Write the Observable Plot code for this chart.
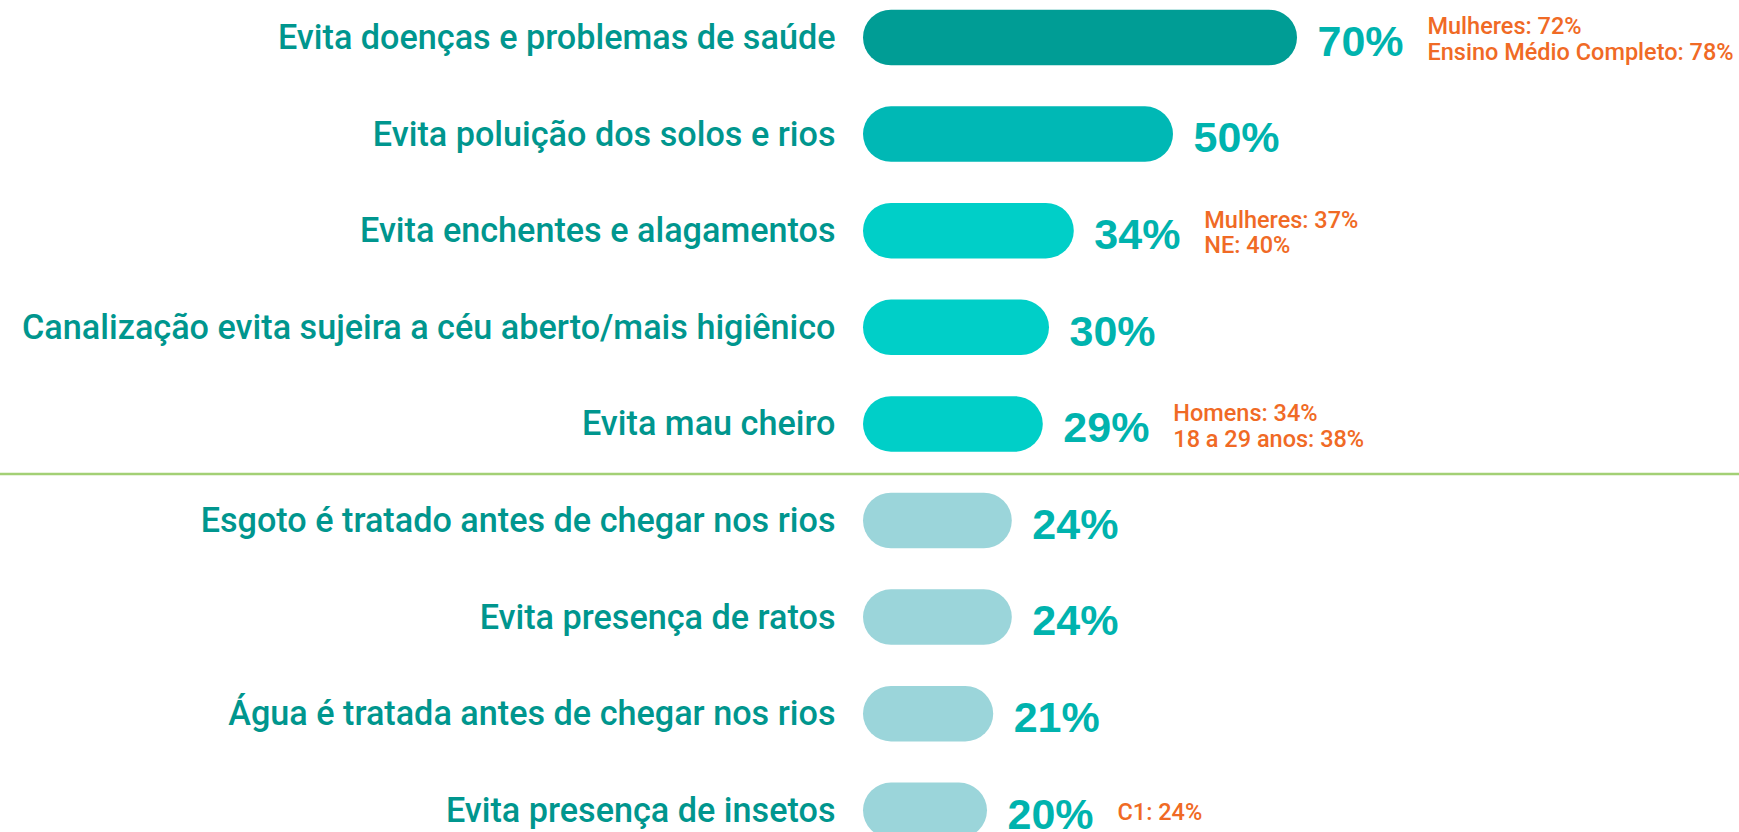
<!DOCTYPE html>
<html>
<head>
<meta charset="utf-8">
<script src="https://cdn.jsdelivr.net/npm/d3@7"></script>
<script src="https://cdn.jsdelivr.net/npm/@observablehq/plot@0.6"></script>
<style>
  html, body { margin: 0; padding: 0; background: #ffffff; overflow: hidden; }
</style>
</head>
<body>
<div id="chart"></div>
<script>
const categories = [
  "Evita doenças e problemas de saúde",
  "Evita poluição dos solos e rios",
  "Evita enchentes e alagamentos",
  "Canalização evita sujeira a céu aberto/mais higiênico",
  "Evita mau cheiro",
  "Esgoto é tratado antes de chegar nos rios",
  "Evita presença de ratos",
  "Água é tratada antes de chegar nos rios",
  "Evita presença de insetos"
];
const values = [70, 50, 34, 30, 29, 24, 24, 21, 20];
const tiers = ["t1", "t2", "t3", "t3", "t3", "t4", "t4", "t4", "t4"];
const notes = [
  "Mulheres: 72%\nEnsino Médio Completo: 78%",
  "",
  "Mulheres: 37%\nNE: 40%",
  "",
  "Homens: 34%\n18 a 29 anos: 38%",
  "",
  "",
  "",
  "C1: 24%"
];
const separatorAfter = categories[5];

const data = categories.map((c, i) => ({category: c, value: values[i], tier: tiers[i], note: notes[i]}));

const chart = Plot.plot({
  width: 1739,
  height: 832,
  marginTop: 0, marginBottom: 0, marginLeft: 0, marginRight: 0,
  style: {background: "#ffffff"},
  x: {domain: [0, 100], range: [863, 1483], axis: null},
  y: {domain: categories, range: [-10.8, 858.6], paddingInner: 0.425, paddingOuter: 0.2125, round: false, axis: null},
  color: {domain: ["t1", "t2", "t3", "t4"], range: ["#009d95", "#00b8b5", "#00cfc8", "#9bd5da"]},
  marks: [
    Plot.ruleY([separatorAfter], {y: d => d, dy: -47, stroke: "#a3d075", strokeWidth: 2.5}),
    Plot.barX(data, {x: "value", y: "category", fill: "tier", rx: 28}),
    Plot.text(data, {
      x: 0, y: "category", text: "category", textAnchor: "end", dx: -28,
      fill: "#00968e", fontFamily: "Roboto", fontWeight: 500, fontSize: 34.2
    }),
    Plot.text(data, {
      x: "value", y: "category", text: d => d.value + "%", textAnchor: "start", dx: 20, dy: 4,
      fill: "#00b3ae", fontFamily: "Liberation Sans, Arial, sans-serif", fontWeight: "bold", fontSize: 43
    }),
    Plot.text(data.filter(d => d.note), {
      x: "value", y: "category", text: "note", textAnchor: "start", dx: 130, dy: 1,
      lineHeight: 1.1,
      fill: "#f06a25", fontFamily: "Roboto", fontWeight: 500, fontSize: 23.5
    })
  ]
});
document.getElementById("chart").appendChild(chart);
</script>
</body>
</html>
